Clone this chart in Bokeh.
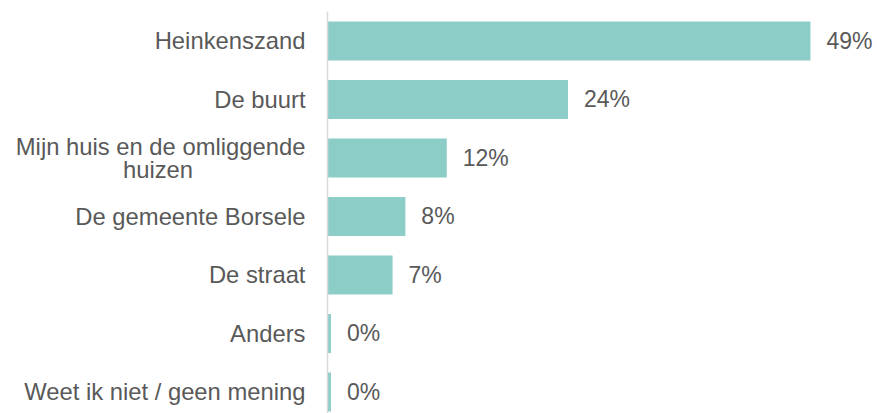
from bokeh.plotting import figure
from bokeh.models import Range1d, FixedTicker, ColumnDataSource
from bokeh.embed import file_html
from bokeh.resources import INLINE
from bokeh.core.properties import value

NB = "\u00a0"
categories = [
    "Heinkenszand",
    "De buurt",
    "Mijn huis en de omliggende\nhuizen" + NB * 17,
    "De gemeente Borsele",
    "De straat",
    "Anders",
    "Weet ik niet / geen mening",
]
values = [49.0, 24.4, 12.1, 7.9, 6.6, 0.35, 0.35]
value_labels = ["49%", "24%", "12%", "8%", "7%", "0%", "0%"]

pos = list(range(len(categories)))
src = ColumnDataSource(dict(y=pos, v=values, lab=value_labels))

p = figure(width=877, height=413, output_backend="svg", toolbar_location=None,
           x_range=Range1d(0, 55.8), y_range=Range1d(6.368, -0.504),
           min_border_left=327, min_border_right=0, min_border_top=11, min_border_bottom=0)

p.hbar(y="y", right="v", left=0, height=0.667, source=src,
       fill_color="#8CCDC8", line_color=None)
p.text(x="v", y="y", text="lab", source=src, x_offset=16,
       text_baseline="middle", text_align="left", text_color="#595959",
       text_font=value("Liberation Sans"), text_font_size="23px")

p.xaxis.visible = False
p.xgrid.visible = False
p.ygrid.visible = False
p.outline_line_color = None

ax = p.yaxis[0]
ax.ticker = FixedTicker(ticks=pos)
ax.major_label_overrides = {i: c for i, c in enumerate(categories)}
ax.major_tick_line_color = None
ax.minor_tick_line_color = None
ax.axis_line_color = "#D9D9D9"
ax.axis_line_width = 1.5
ax.major_label_standoff = 16
ax.major_label_text_font = "Liberation Sans"
ax.major_label_text_font_size = "23.8px"
ax.major_label_text_color = "#595959"
ax.major_label_text_line_height = 0.88

open("out.html", "w").write(file_html(p, INLINE))
